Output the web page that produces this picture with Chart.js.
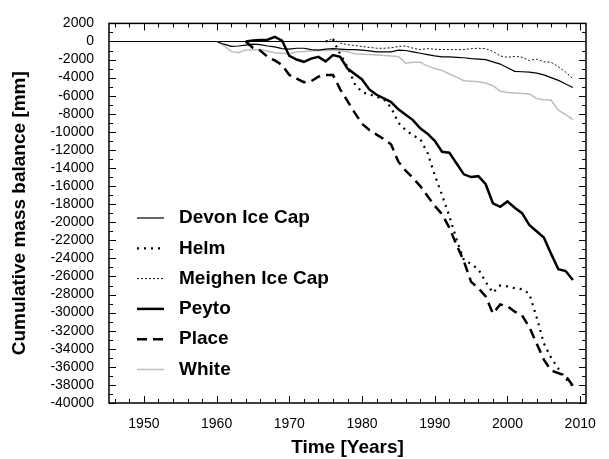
<!DOCTYPE html>
<html>
<head>
<meta charset="utf-8">
<script src="https://cdn.jsdelivr.net/npm/chart.js@4.4.1/dist/chart.umd.min.js"></script>
<style>
  html, body { margin: 0; padding: 0; background: #fff; }
</style>
</head>
<body>
<canvas id="massBalanceChart" width="609" height="459"></canvas>
<script>
// tick labels
const xTicks = [1950, 1960, 1970, 1980, 1990, 2000, 2010];
const yTicks = [2000, 0, -2000, -4000, -6000, -8000, -10000, -12000, -14000, -16000, -18000,
  -20000, -22000, -24000, -26000, -28000, -30000, -32000, -34000, -36000, -38000, -40000];

// series: first year of record + cumulative mass balance in mm, one value per year
const devonStart = 1960;
const devonValues = [0, -300, -550, -500, -400, -300, -350, -500, -600, -800,
  -850, -750, -750, -900, -950, -850, -800, -850, -900, -900,
  -950, -1050, -1150, -1150, -1150, -950, -1000, -1150, -1300, -1450,
  -1600, -1700, -1700, -1750, -1800, -1900, -1950, -2000, -2250, -2500,
  -2900, -3300, -3350, -3400, -3500, -3700, -4000, -4300, -4700, -5100];

const helmStart = 1975;
const helmValues = [0, 200, -1400, -2800, -4700,
  -5600, -5850, -6100, -6400, -7300, -9000, -9800, -10400, -10800, -12300,
  -14800, -17000, -19300, -21900, -24200, -24600, -25200, -26600, -27800, -27000,
  -27100, -27300, -27400, -27900, -30500, -33400, -35000, -36200, -37300, -38200];

const meighenStart = 1975;
const meighenValues = [0, 300, -200, -350, -450,
  -550, -650, -750, -750, -700, -550, -500, -750, -900, -800,
  -850, -900, -900, -900, -900, -800, -750, -800, -1100, -1600,
  -1750, -1650, -1750, -2100, -1950, -2250, -2300, -2800, -3400, -4100];

const peytoStart = 1964;
const peytoValues = [0, 100, 150, 200, 520, 100,
  -1600, -2000, -2250, -1900, -1700, -2200, -1500, -1700, -3000, -3600,
  -4200, -5300, -5900, -6300, -6700, -7500, -8100, -8700, -9600, -10200,
  -11000, -12200, -12300, -13500, -14700, -15000, -14900, -15800, -17900, -18300,
  -17700, -18400, -19000, -20300, -21000, -21700, -23500, -25200, -25400, -26400];

const placeStart = 1964;
const placeValues = [0, -700, -1000, -1700, -2100, -2600,
  -3700, -4100, -4500, -4400, -3900, -3700, -3700, -5300, -6600, -7900,
  -9100, -9800, -10300, -10800, -11400, -13300, -14300, -15100, -16000, -17100,
  -18200, -19100, -20600, -22500, -24300, -26600, -27300, -28200, -30100, -29100,
  -29300, -29900, -30300, -31600, -33400, -35200, -36400, -36700, -37000, -38100];

const whiteStart = 1960;
const whiteValues = [0, -450, -1100, -1250, -950, -950, -900, -1050, -1250, -1300,
  -1350, -1150, -1100, -1050, -1000, -1000, -950, -1000, -1150, -1350,
  -1400, -1450, -1500, -1550, -1600, -1650, -2400, -2300, -2300, -2700,
  -3000, -3200, -3600, -3950, -4350, -4400, -4450, -4600, -4900, -5500,
  -5650, -5700, -5750, -5800, -6300, -6450, -6500, -7600, -8100, -8650];

const FONT = '"Liberation Sans", Arial, Helvetica, sans-serif';

const toPoints = (start, values) => values.map((v, i) => ({ x: start + i, y: v }));

// inward ticks on all four sides, frame and zero line
const frameTicks = {
  id: 'frameTicks',
  beforeDatasetsDraw(chart) {
    const { ctx, chartArea: a, scales: { y } } = chart;
    const y0 = Math.round(y.getPixelForValue(0)) + 0.5;
    ctx.save();
    ctx.strokeStyle = '#000';
    ctx.lineWidth = 1;
    ctx.beginPath();
    ctx.moveTo(a.left, y0);
    ctx.lineTo(a.right, y0);
    ctx.stroke();
    ctx.restore();
  },
  afterDatasetsDraw(chart) {
    const { ctx, chartArea: a, scales: { x, y } } = chart;
    ctx.save();
    ctx.strokeStyle = '#000';
    ctx.lineWidth = 1;
    ctx.beginPath();
    for (let yr = 1946; yr <= 2010; yr += 2) {
      const px = Math.round(x.getPixelForValue(yr)) + 0.5;
      const len = yr % 10 === 0 ? 7 : 4;
      ctx.moveTo(px, a.top); ctx.lineTo(px, a.top + len);
      ctx.moveTo(px, a.bottom); ctx.lineTo(px, a.bottom - len);
    }
    for (let v = -40000; v <= 2000; v += 1000) {
      const py = Math.round(y.getPixelForValue(v)) + 0.5;
      const len = v % 2000 === 0 ? 7 : 4;
      ctx.moveTo(a.left, py); ctx.lineTo(a.left + len, py);
      ctx.moveTo(a.right, py); ctx.lineTo(a.right - len, py);
    }
    ctx.stroke();
    ctx.lineWidth = 1.5;
    ctx.strokeRect(a.left, a.top, a.right - a.left, a.bottom - a.top);
    ctx.restore();
  }
};

// legend drawn inside the plot, with real line samples
const insideLegend = {
  id: 'insideLegend',
  afterDraw(chart, args, opts) {
    const { ctx } = chart;
    ctx.save();
    chart.data.datasets.forEach((ds, i) => {
      const rowY = opts.top + i * opts.rowGap;
      ctx.strokeStyle = ds.borderColor;
      ctx.lineWidth = ds.borderWidth;
      ctx.setLineDash(ds.borderDash || []);
      ctx.beginPath();
      ctx.moveTo(opts.left, rowY);
      ctx.lineTo(opts.left + opts.sampleWidth, rowY);
      ctx.stroke();
      ctx.setLineDash([]);
      ctx.fillStyle = '#000';
      ctx.font = 'bold 19px ' + FONT;
      ctx.textBaseline = 'middle';
      ctx.fillText(ds.label, opts.textLeft, rowY);
    });
    ctx.restore();
  }
};

const ctx = document.getElementById('massBalanceChart').getContext('2d');

new Chart(ctx, {
  type: 'line',
  data: {
    datasets: [
      { label: 'Devon Ice Cap', data: toPoints(devonStart, devonValues),
        borderColor: '#000', borderWidth: 1.2 },
      { label: 'Helm', data: toPoints(helmStart, helmValues),
        borderColor: '#000', borderWidth: 2.2, borderDash: [2, 5] },
      { label: 'Meighen Ice Cap', data: toPoints(meighenStart, meighenValues),
        borderColor: '#111', borderWidth: 1, borderDash: [2, 2] },
      { label: 'Peyto', data: toPoints(peytoStart, peytoValues),
        borderColor: '#000', borderWidth: 2.5 },
      { label: 'Place', data: toPoints(placeStart, placeValues),
        borderColor: '#000', borderWidth: 2.5, borderDash: [10, 6] },
      { label: 'White', data: toPoints(whiteStart, whiteValues),
        borderColor: '#bdbdbd', borderWidth: 1.5 }
    ]
  },
  options: {
    responsive: false,
    animation: false,
    parsing: true,
    elements: {
      point: { radius: 0 },
      line: { tension: 0, fill: false, borderCapStyle: 'butt' }
    },
    layout: { padding: { top: 17, right: 19, bottom: 0, left: 0 } },
    plugins: {
      legend: { display: false },
      tooltip: { enabled: false },
      insideLegend: { left: 137, sampleWidth: 27, textLeft: 179, top: 218, rowGap: 30.3 }
    },
    scales: {
      x: {
        type: 'linear',
        min: 1945.2,
        max: 2010.8,
        afterBuildTicks: (s) => { s.ticks = xTicks.map((v) => ({ value: v })); },
        afterFit: (s) => { s.height = 56; },
        grid: { display: false, drawTicks: false },
        border: { display: false },
        ticks: {
          color: '#000', padding: 13, maxRotation: 0, autoSkip: false,
          font: { family: FONT, size: 14 },
          callback: (v) => String(v)
        },
        title: {
          display: true, text: 'Time [Years]', color: '#000',
          font: { family: FONT, size: 19, weight: 'bold' },
          padding: { top: 0, bottom: 0 }
        }
      },
      y: {
        min: -40000,
        max: 2000,
        afterBuildTicks: (s) => { s.ticks = yTicks.map((v) => ({ value: v })); },
        afterFit: (s) => { s.width = 109; },
        grid: { display: false, drawTicks: false },
        border: { display: false },
        ticks: {
          color: '#000', padding: 15, autoSkip: false,
          font: { family: FONT, size: 14 },
          callback: (v) => String(v)
        },
        title: {
          display: true, text: 'Cumulative mass balance [mm]', color: '#000',
          font: { family: FONT, size: 19, weight: 'bold' },
          padding: { top: 8, bottom: 0 }
        }
      }
    }
  },
  plugins: [frameTicks, insideLegend]
});
</script>
</body>
</html>
